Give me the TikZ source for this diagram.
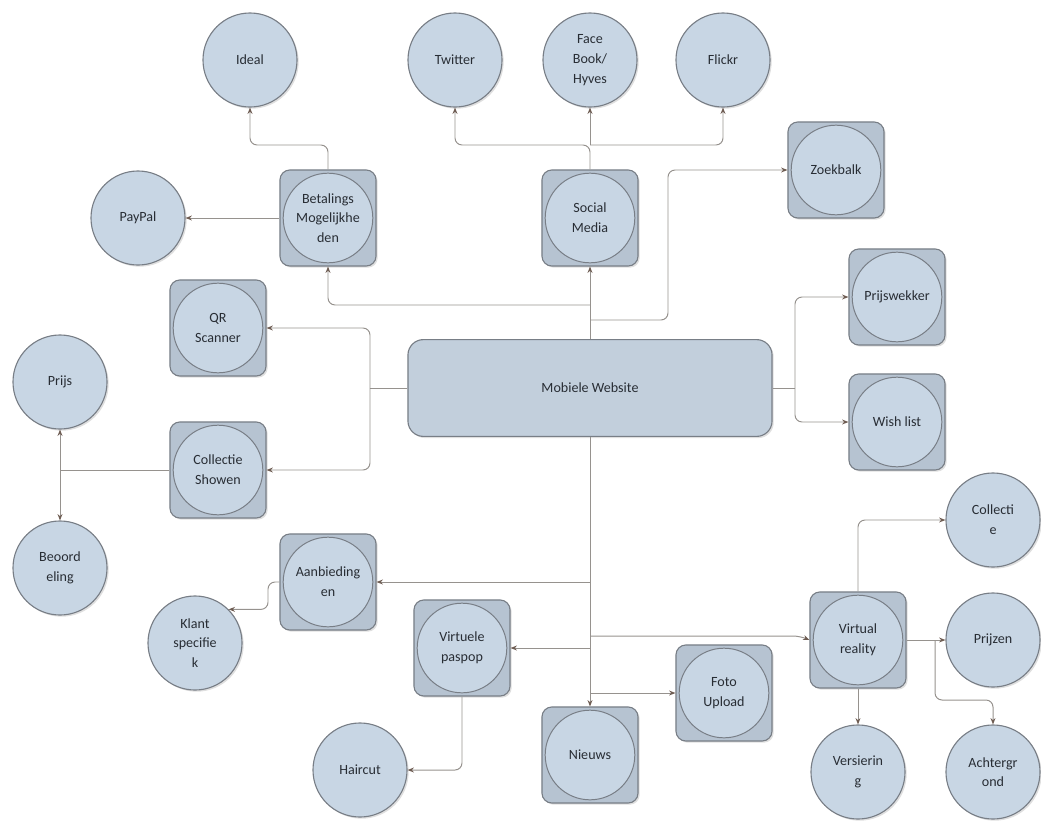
\documentclass[tikz,border=0pt]{standalone}
\usepackage{fontspec}
\setmainfont{Carlito}
\usetikzlibrary{arrows.meta,shadows}
\definecolor{nodefill}{RGB}{200,214,228}
\definecolor{sqfill}{RGB}{182,195,209}
\definecolor{nodeline}{RGB}{120,126,134}
\definecolor{wirec}{RGB}{150,146,142}
\definecolor{tipc}{RGB}{110,92,82}
\definecolor{textc}{RGB}{40,45,52}
\begin{document}
\begin{tikzpicture}[x=0.025cm,y=-0.025cm,
  font=\fontsize{10}{14}\selectfont, text=textc,
  rnd/.style={circle, draw=nodeline, line width=0.8pt, fill=nodefill, minimum size=2.35cm,
    inner sep=1pt, align=center,
    drop shadow={opacity=0.25, shadow xshift=1.2pt, shadow yshift=-1.2pt}},
  sq/.style={rectangle, rounded corners=7pt, draw=nodeline, line width=0.8pt, fill=sqfill,
    minimum size=2.4cm, inner sep=1pt, align=center,
    drop shadow={opacity=0.25, shadow xshift=1.2pt, shadow yshift=-1.2pt},
    path picture={\draw[nodeline, fill=nodefill, line width=0.7pt]
      (path picture bounding box.center) circle (1.12cm);}},
  wire/.style={draw=wirec, line width=0.7pt, rounded corners=5pt,
    -{Stealth[length=4.5pt, width=3.5pt, color=tipc]}}]
\useasboundingbox (0,0) rectangle (1041,823);

\node[rectangle, rounded corners=11pt, draw=nodeline, line width=0.8pt, fill=nodefill!92!gray,
  minimum width=9.1cm, minimum height=2.42cm,
  drop shadow={opacity=0.25, shadow xshift=1.2pt, shadow yshift=-1.2pt}] (mob) at (590,388) {Mobiele Website};

\node[rnd] (ideal) at (250,60) {Ideal};
\node[rnd] (twitter) at (455,60) {Twitter};
\node[rnd] (facebook) at (590,60) {Face\\Book/\\Hyves};
\node[rnd] (flickr) at (723,60) {Flickr};
\node[rnd] (paypal) at (138,218) {PayPal};
\node[sq] (bet) at (328,218) {Betalings\\Mogelijkhe\\den};
\node[sq] (social) at (590,218) {Social\\Media};
\node[sq] (zoek) at (836,170) {Zoekbalk};
\node[sq] (wekker) at (897,297) {Prijswekker};
\node[sq] (wish) at (897,422) {Wish list};
\node[sq] (qr) at (218,328) {QR\\Scanner};
\node[rnd] (prijs) at (60,382) {Prijs};
\node[sq] (coll) at (218,470) {Collectie\\Showen};
\node[rnd] (beoord) at (60,568) {Beoord\\eling};
\node[sq] (aanb) at (328,582) {Aanbieding\\en};
\node[rnd] (klant) at (195,643) {Klant\\specifie\\k};
\node[sq] (pas) at (462,648) {Virtuele\\paspop};
\node[rnd] (hair) at (360,770) {Haircut};
\node[sq] (nieuws) at (590,755) {Nieuws};
\node[sq] (foto) at (724,693) {Foto\\Upload};
\node[sq] (vr) at (858,640) {Virtual\\reality};
\node[rnd] (collectie) at (993,520) {Collecti\\e};
\node[rnd] (prijzen) at (993,640) {Prijzen};
\node[rnd] (vers) at (858,772) {Versierin\\g};
\node[rnd] (achter) at (993,772) {Achtergr\\ond};

\coordinate (c1) at (328,145);
\coordinate (c2) at (590,145);
\coordinate (c3) at (590,305);
\coordinate (c4) at (590,320);
\coordinate (c5) at (668,170);
\coordinate (c6) at (370,388);
\coordinate (c7) at (60,470);
\coordinate (c8) at (795,388);
\coordinate (c9) at (590,582);
\coordinate (c10) at (590,648);
\coordinate (c17) at (590,636);
\coordinate (c18) at (800,636);
\coordinate (c11) at (590,693);
\coordinate (c12) at (858,520);
\coordinate (c13) at (935,640);
\coordinate (c14) at (935,700);
\coordinate (c15) at (268,582);
\coordinate (c16) at (462,770);

\draw[wire] (bet.north) -- (c1) -| (ideal.south);
\draw[wire] (bet.west) -- (paypal.east);
\draw[wire] (social.north) -- (c2) -| (twitter.south);
\draw[wire] (c2) -- (facebook.south);
\draw[wire] (c2) -| (flickr.south);
\draw[wire] (mob.north) -- (social.south);
\draw[wire] (c3) -| (bet.south);
\draw[wire] (c4) -| (c5) -- (zoek.west);
\draw[wire, -] (mob.west) -- (c6);
\draw[wire] (c6) |- (qr.east);
\draw[wire] (c6) |- (coll.east);
\draw[wire, -] (coll.west) -- (c7);
\draw[wire] (c7) -- (prijs.south);
\draw[wire] (c7) -- (beoord.north);
\draw[wire, -] (mob.east) -- (c8);
\draw[wire] (c8) |- (wekker.west);
\draw[wire] (c8) |- (wish.west);
\draw[wire] (mob.south) -- (nieuws.north);
\draw[wire] (c9) -- (aanb.east);
\draw[wire] (c10) -- (pas.east);
\draw[wire] (c17) -- (c18) -- (vr.west);
\draw[wire] (c11) -- (foto.west);
\draw[wire] (vr.north) -- (c12) -- (collectie.west);
\draw[wire] (vr.east) -- (prijzen.west);
\draw[wire] (c13) -- (c14) -| (achter.north);
\draw[wire] (vr.south) -- (vers.north);
\draw[wire] (aanb.west) -- (c15) |- (klant.north east);
\draw[wire] (pas.south) -- (c16) -- (hair.east);

\end{tikzpicture}
\end{document}
